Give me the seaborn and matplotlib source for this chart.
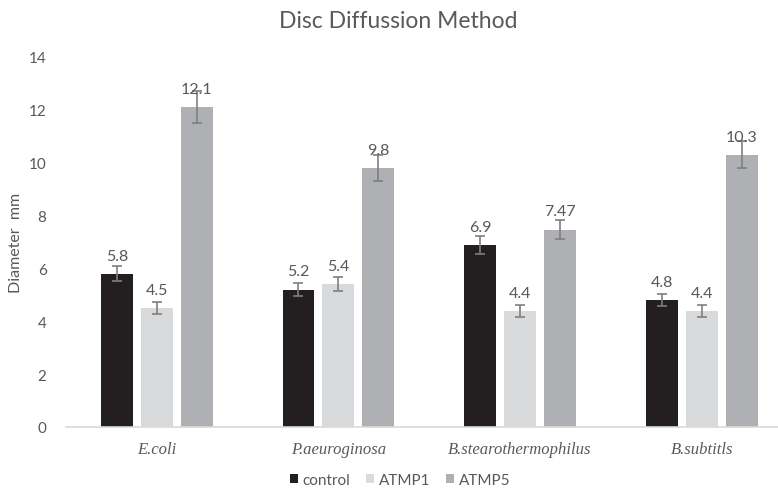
# Disc Diffusion Method - grouped bar chart with error bars
import pandas as pd
import matplotlib.pyplot as plt
import seaborn as sns

# Chart data
organisms = ['E.coli', 'P.aeuroginosa', 'B.stearothermophilus', 'B.subtitls']
treatments = ['control', 'ATMP1', 'ATMP5']
control = [5.8, 5.2, 6.9, 4.8]
atmp1 = [4.5, 5.4, 4.4, 4.4]
atmp5 = [12.1, 9.8, 7.47, 10.3]
control_err = [0.29, 0.26, 0.345, 0.24]
atmp1_err = [0.225, 0.27, 0.22, 0.22]
atmp5_err = [0.605, 0.49, 0.3735, 0.515]
value_labels = [['5.8', '5.2', '6.9', '4.8'],
                ['4.5', '5.4', '4.4', '4.4'],
                ['12.1', '9.8', '7.47', '10.3']]
y_ticks = [0, 2, 4, 6, 8, 10, 12, 14]

# Build a long table for seaborn
df = pd.DataFrame({
    'organism': organisms * 3,
    'treatment': [t for t in treatments for _ in organisms],
    'diameter': control + atmp1 + atmp5,
})
errors = [control_err, atmp1_err, atmp5_err]

colors = ['#231f20', '#d9dadc', '#afb0b3']
text_gray = '#595959'

sns.set_theme(style='white')
plt.rcParams['font.family'] = ['Lato', 'DejaVu Sans']

fig = plt.figure(figsize=(7.78, 4.89), dpi=100)
ax = fig.add_axes([66 / 778, 61 / 489, 712 / 778, 370 / 489])

sns.barplot(data=df, x='organism', y='diameter', hue='treatment',
            hue_order=treatments, order=organisms, palette=colors,
            width=0.66, gap=0.2, errorbar=None, saturation=1,
            linewidth=0, ax=ax)

# Error bars and value labels on each bar
for container, err, labels in zip(ax.containers, errors, value_labels):
    xs = [p.get_x() + p.get_width() / 2 for p in container]
    ys = [p.get_height() for p in container]
    ax.errorbar(xs, ys, yerr=err, fmt='none', ecolor='#7f7f7f',
                elinewidth=1.2, capsize=3.5, capthick=1.2, zorder=3)
    ax.bar_label(container, labels=labels, padding=8, fontsize=11.5,
                 color=text_gray)

ax.set_xlim(-0.5, 3.42)
ax.set_ylim(0, 14)
ax.set_yticks(y_ticks)
ax.tick_params(axis='y', length=0, pad=14, labelsize=11, labelcolor=text_gray)
ax.tick_params(axis='x', length=0, pad=10)
for lbl in ax.get_xticklabels():
    lbl.set_fontfamily('Liberation Serif')
    lbl.set_fontstyle('italic')
    lbl.set_fontsize(12)
    lbl.set_color(text_gray)

ax.set_xlabel('')
ax.set_ylabel('Diameter  mm', fontsize=11.5, color=text_gray, labelpad=4)

for side in ['top', 'right', 'left']:
    ax.spines[side].set_visible(False)
ax.spines['bottom'].set_color('#d9d9d9')
ax.spines['bottom'].set_linewidth(1.2)

fig.text(398 / 778, 1 - 22 / 489, 'Disc Diffussion Method', ha='center',
         va='center', fontsize=16.5, color=text_gray)

handles, labels = ax.get_legend_handles_labels()
ax.legend(handles, labels, ncol=3, loc='center',
          bbox_to_anchor=(400 / 778, 1 - 481 / 489),
          bbox_transform=fig.transFigure, frameon=False,
          handlelength=0.55, handleheight=0.55, handletextpad=0.3,
          columnspacing=1.0, fontsize=11, labelcolor=text_gray)

plt.savefig('out.png', dpi=100)
